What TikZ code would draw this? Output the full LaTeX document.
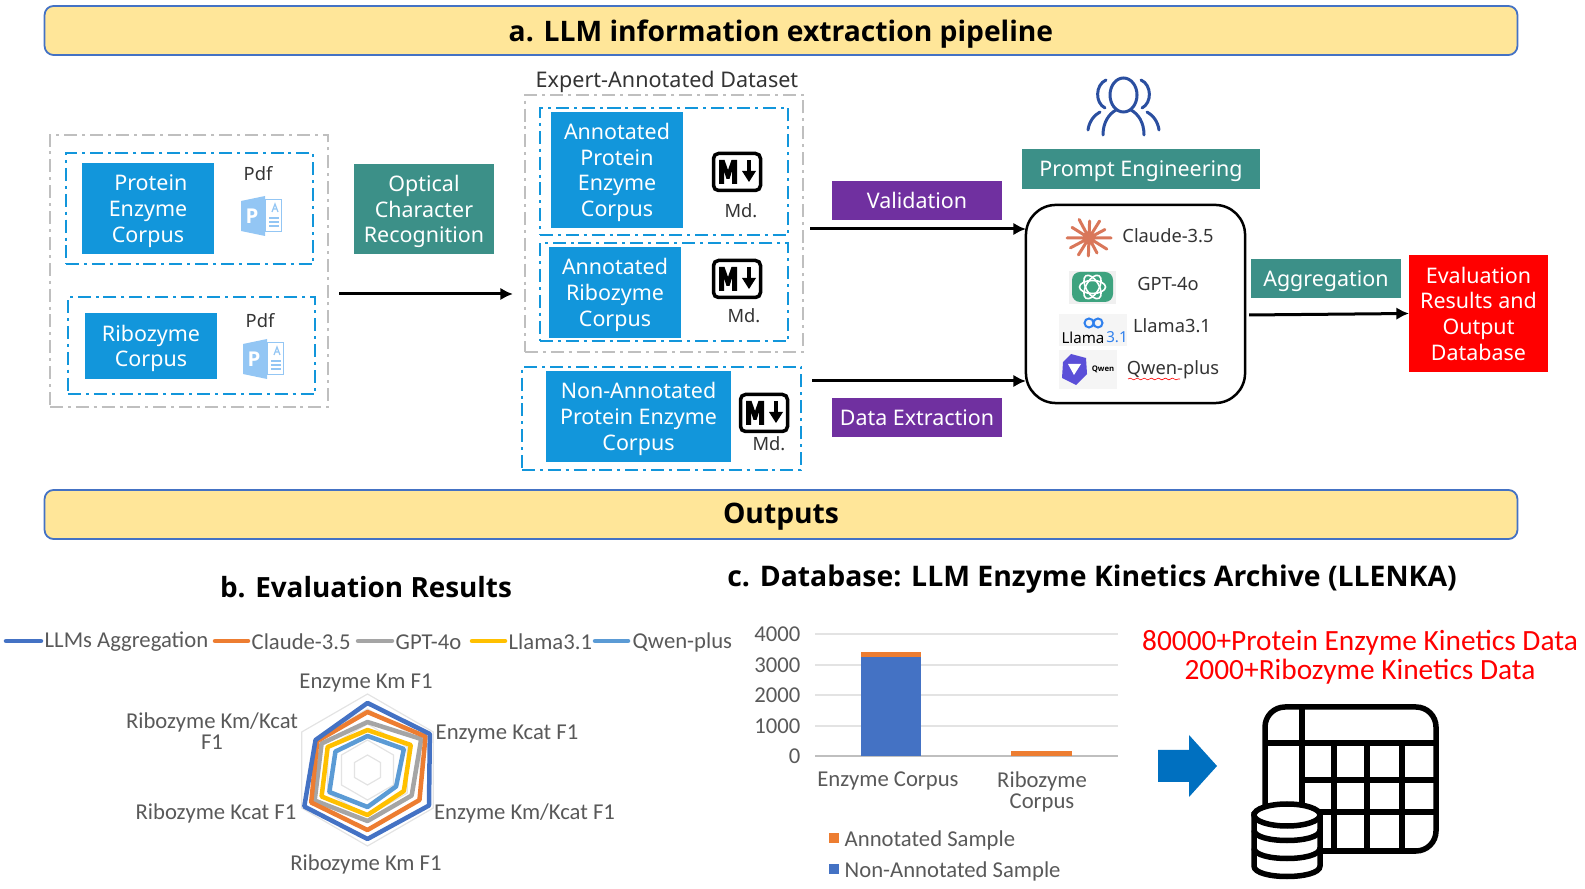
\documentclass[tikz,border=0pt]{standalone}
\usepackage{fontspec}
\setmainfont{Noto Sans}
\newfontfamily\headfont{Open Sans}
\newfontfamily\chartfont{Carlito}
\usetikzlibrary{arrows.meta,decorations.pathmorphing}
\definecolor{corpusblue}{HTML}{1296DB}
\definecolor{tealfill}{HTML}{3C9088}
\definecolor{purplefill}{HTML}{7030A0}
\definecolor{bannerfill}{HTML}{FFE699}
\definecolor{bannerline}{HTML}{4472C4}
\definecolor{framegray}{HTML}{BFBFBF}
\definecolor{labelgray}{HTML}{595959}
\definecolor{iconblue}{HTML}{93C6F4}
\definecolor{peopleblue}{HTML}{2B4FA0}
\definecolor{sorange}{HTML}{ED7D31}
\definecolor{sgray}{HTML}{A5A5A5}
\definecolor{syellow}{HTML}{FFC000}
\definecolor{slight}{HTML}{5B9BD5}
\definecolor{gridgray}{HTML}{E3E3E3}
\definecolor{claudemark}{HTML}{D9775A}
\definecolor{gptmark}{HTML}{3EA37F}
\definecolor{llamablue}{HTML}{2F80ED}
\definecolor{qwenmark}{HTML}{5B4FD8}
\definecolor{bigarrow}{HTML}{0070C0}
\tikzset{
  banner/.style={draw=bannerline, fill=bannerfill, line width=0.018cm, rounded corners=0.09cm,
    minimum width=14.72cm, minimum height=0.49cm, inner sep=0, outer sep=0,
    font=\headfont\fontsize{8.03}{10}\selectfont\bfseries},
  graygroup/.style={draw=framegray, line width=0.02cm, inner sep=0, outer sep=0,
    dash pattern=on 3.7pt off 1.4pt on 0.85pt off 1.4pt},
  dashgroup/.style={graygroup, draw=corpusblue},
  colorbox/.style={inner sep=0, outer sep=0, text=white, align=center,
    font=\fontsize{6.1}{7.3}\selectfont},
  corpus/.style={colorbox, fill=corpusblue, text depth=-0.2pt},
  stepteal/.style={colorbox, fill=tealfill},
  steppurple/.style={colorbox, fill=purplefill},
  flowline/.style={line width=0.03cm, -{Latex[length=3.6pt,width=3.6pt]}},
  plainlabel/.style={inner sep=0, text=black!80, font=\fontsize{5.2}{6.5}\selectfont},
  heading/.style={inner sep=0, font=\headfont\fontsize{7.92}{10}\selectfont\bfseries},
  chartlabel/.style={inner sep=0, text=labelgray, align=center,
    font=\chartfont\fontsize{6.45}{6}\selectfont},
  radarline/.style={line width=0.045cm, line join=round},
  legendline/.style={line width=0.045cm, line cap=round},
  tableline/.style={line width=0.055cm},
  pdficon/.pic={
    \fill [iconblue] (0,5) -- (24,0) -- (24,40) -- (0,35) -- cycle;%
    \draw [iconblue, line width=0.01cm, fill=white] (24,4) rectangle (40,36);%
    \draw [iconblue, line width=0.012cm] (28,22) -- (38,22) (28,26) -- (38,26) (28,30) -- (38,30);%
    \draw [iconblue, line width=0.012cm] (31,16) -- (34,8) -- (37,16) (32,13) -- (36,13);%
    \node (letter) [inner sep=0, text=white, font=\headfont\fontsize{5.8}{6}\selectfont\bfseries] at (11,20) {P};%
  },
  mdicon/.pic={
    \draw [line width=0.035cm, rounded corners=0.05cm, fill=white] (1.5,1.5) rectangle (48.5,38.5);%
    \fill (7,8) -- (12.5,8) -- (16,18) -- (19.5,8) -- (25,8) -- (25,32) -- (20,32) -- (20,19) -- (17.5,27) -- (14.5,27) -- (12,19) -- (12,32) -- (7,32) -- cycle;%
    \fill (35,8) rectangle (39,20);%
    \fill (30,19) -- (44,19) -- (37,30) -- cycle;%
  },
}
\begin{document}
\begin{tikzpicture}[x=0.01cm,y=-0.01cm]
  \useasboundingbox (0,0) rectangle (1585,889);

  % Banners
  \node (bannera) [banner] at (781,30.5) {\rule{0pt}{8.3pt}a. LLM information extraction pipeline};%
  \node (banneroutputs) [banner] at (781,514.5) {\rule{0pt}{7.2pt}Outputs};%

  % Source corpora, left group
  \node (sourcegroup) [graygroup, minimum width=2.78cm, minimum height=2.72cm] at (189,271) {};%
  \node (proteinframe) [dashgroup, minimum width=2.47cm, minimum height=1.11cm] at (189.5,208.5) {};%
  \node (ribozymeframe) [dashgroup, minimum width=2.47cm, minimum height=0.97cm] at (191.5,345.5) {};%
  \node (proteincorpus) [corpus, minimum width=1.32cm, minimum height=0.91cm] at (148,208.5) {\hspace*{1.6pt}Protein\\Enzyme\\Corpus};%
  \node (ribozymecorpus) [corpus, minimum width=1.32cm, minimum height=0.66cm] at (151,346) {Ribozyme\\Corpus};%
  \node (pdfa) [plainlabel] at (258,174) {Pdf};%
  \node (pdfb) [plainlabel] at (260,321) {Pdf};%
  \pic at (241,196) {pdficon};%
  \pic at (243,339) {pdficon};%

  % Optical character recognition step
  \node (ocr) [stepteal, text depth=-0.2pt, minimum width=1.40cm, minimum height=0.90cm] at (424,209) {Optical\\Character\\Recognition};%

  % Expert annotated group
  \node (expertlabel) [plainlabel, font=\fontsize{6.13}{7}\selectfont] at (667,82) {Expert-Annotated Dataset};%
  \node (expertgroup) [graygroup, minimum width=2.78cm, minimum height=2.57cm] at (664,223.5) {};%
  \node (annproteinframe) [dashgroup, minimum width=2.48cm, minimum height=1.27cm] at (664,171.5) {};%
  \node (annribozymeframe) [dashgroup, minimum width=2.48cm, minimum height=0.98cm] at (664,292) {};%
  \node (nonannframe) [dashgroup, minimum width=2.79cm, minimum height=1.03cm] at (661.5,418.5) {};%
  \node (annprotein) [corpus, minimum width=1.32cm, minimum height=1.16cm] at (617,170) {Annotated\\Protein\\Enzyme\\Corpus};%
  \node (annribozyme) [corpus, minimum width=1.32cm, minimum height=0.91cm] at (615,292.5) {Annotated\\Ribozyme\\Corpus};%
  \node (nonann) [corpus, minimum width=1.85cm, minimum height=0.91cm] at (638.5,416.5) {Non-Annotated\\Protein Enzyme\\Corpus};%
  \pic at (712,152) {mdicon};%
  \pic at (712,259) {mdicon};%
  \pic at (739,393) {mdicon};%
  \node (mda) [plainlabel] at (741,211) {Md.};%
  \node (mdb) [plainlabel] at (744,316) {Md.};%
  \node (mdc) [plainlabel] at (769,444) {Md.};%

  % Validation and extraction labels
  \node (validation) [steppurple, minimum width=1.70cm, minimum height=0.39cm] at (917,200.5) {Validation};%
  \node (extraction) [steppurple, minimum width=1.70cm, minimum height=0.39cm] at (917,417.5) {Data Extraction};%

  % People icon
  \draw [peopleblue, line width=0.03cm, line cap=round] (1123.5,95) ellipse (13.5 and 17);%
  \draw [peopleblue, line width=0.03cm, line cap=round]
    (1103,135) .. controls (1103,122) and (1109,114) .. (1116,110)
    (1144,135) .. controls (1144,122) and (1138,114) .. (1131,110)
    (1106,80) .. controls (1095,85) and (1095,103) .. (1105,108)
    (1141,80) .. controls (1152,85) and (1152,103) .. (1142,108)
    (1088,130) .. controls (1089,122) and (1094,115) .. (1100,112)
    (1159,130) .. controls (1158,122) and (1153,115) .. (1147,112);%

  % Prompt engineering and model box
  \node (prompt) [stepteal, text height=5.9pt, minimum width=2.38cm, minimum height=0.40cm] at (1141,169) {Prompt Engineering};%
  \node (llmbox) [draw, line width=0.025cm, rounded corners=0.3cm, inner sep=0, outer sep=0,
    minimum width=2.19cm, minimum height=1.98cm] at (1135.5,304) {};%

  % Claude mark
  \draw [claudemark, line width=0.03cm, line cap=round, shift={(1089,238)}]
    (0:22) -- (180:22) (32:21) -- (212:20) (62:17) -- (242:21) (92:18) -- (272:17)
    (122:20) -- (302:20) (152:21) -- (332:18);%
  \node (claude) [plainlabel] at (1168,236) {Claude-3.5};%

  % GPT mark
  \fill [black!6] (1069,271) rectangle (1116,304);%
  \fill [gptmark, rounded corners=0.08cm] (1072,272) rectangle (1113,302);%
  \draw [white, line width=0.016cm] (1092.5,287) ellipse (13 and 6.5);%
  \draw [white, line width=0.016cm, rotate around={60:(1092.5,287)}] (1092.5,287) ellipse (13 and 6.5);%
  \draw [white, line width=0.016cm, rotate around={120:(1092.5,287)}] (1092.5,287) ellipse (13 and 6.5);%
  \node (gpt) [plainlabel] at (1168,284) {GPT-4o};%

  % Llama mark
  \fill [black!4] (1059,314) rectangle (1127,346);%
  \draw [llamablue, line width=0.02cm] (1089,323) ellipse (4.5 and 4.5) (1098,323) ellipse (4.5 and 4.5);%
  \node (llamamark) [inner sep=0, text=black, font=\fontsize{4.3}{5}\selectfont] at (1083,337.5) {Llama};%
  \node (llamaver) [inner sep=0, text=llamablue, font=\fontsize{4.3}{5}\selectfont] at (1117,337.5) {3.1};%
  \node (llama) [plainlabel] at (1172,325.5) {Llama3.1};%

  % Qwen mark
  \fill [black!4] (1059,350) rectangle (1117,389);%
  \fill [qwenmark] (1071,354) -- (1086,358) -- (1087,374) -- (1076,385) -- (1062,378) -- (1063,362) -- cycle;%
  \fill [white] (1068,364) -- (1081,364) -- (1074,375) -- cycle;%
  \node (qwenmark) [inner sep=0, font=\headfont\fontsize{2.2}{3}\selectfont\bfseries] at (1103,369) {Qwen};%
  \node (qwen) [plainlabel] at (1173,370) {Qwen-plus};%
  \draw [red, line width=0.006cm, decorate, decoration={snake,amplitude=0.25pt,segment length=2pt}] (1128,379) -- (1180,379);%

  % Aggregation and evaluation output
  \node (aggregation) [stepteal, text height=5.9pt, minimum width=1.50cm, minimum height=0.39cm] at (1326,278.5) {Aggregation};%
  \node (evalbox) [colorbox, fill=red, minimum width=1.39cm, minimum height=1.17cm] at (1478.5,313.5) {Evaluation\\Results and\\Output\\Database};%

  % Arrows
  \coordinate (ocrstart) at (339,294);%
  \coordinate (valstart) at (810,229);%
  \coordinate (extstart) at (812,381);%
  \coordinate (outstart) at (1249,315);%
  \draw [flowline, shorten >=0.12cm] (ocrstart) -- (ocrstart -| expertgroup.west);%
  \draw [flowline] (valstart) -- (valstart -| llmbox.west);%
  \draw [flowline] (extstart) -- (extstart -| llmbox.west);%
  \draw [flowline] (outstart) -- (evalbox.west);%

  % Section headings
  \node (headingb) [heading] at (366,587) {b. Evaluation Results};%
  \node (headingc) [heading, font=\headfont\fontsize{8.07}{10}\selectfont\bfseries] at (1092,579) {c. Database: LLM Enzyme Kinetics Archive (LLENKA)};%

  % Radar legend
  \draw [legendline, bannerline] (6,641) -- (41,641);%
  \draw [legendline, sorange] (215,641) -- (248,641);%
  \draw [legendline, sgray] (358,641) -- (392,641);%
  \draw [legendline, syellow] (472,641) -- (505,641);%
  \draw [legendline, slight] (595,641) -- (628,641);%
  \node (legendagg) [chartlabel, anchor=west] at (44,642) {LLMs Aggregation};%
  \node (legendclaude) [chartlabel, anchor=west] at (251,642) {Claude-3.5};%
  \node (legendgpt) [chartlabel, anchor=west] at (395,642) {GPT-4o};%
  \node (legendllama) [chartlabel, anchor=west] at (508,642) {Llama3.1};%
  \node (legendqwen) [chartlabel, anchor=west] at (632,642) {Qwen-plus};%

  % Radar chart
  \begin{scope}[shift={(367.5,770)}]
    \foreach \r in {15,30,46,61,76} {
      \draw [gridgray, line width=0.012cm] (-90:\r) -- (-30:\r) -- (30:\r) -- (90:\r) -- (150:\r) -- (210:\r) -- cycle;%
    }
    \draw [radarline, slight] (-90:34) -- (-30:42) -- (30:33) -- (90:37) -- (150:44) -- (210:37) -- cycle;%
    \draw [radarline, syellow] (-90:40) -- (-30:50) -- (30:42) -- (90:45) -- (150:53) -- (210:46) -- cycle;%
    \draw [radarline, sgray] (-90:48) -- (-30:62) -- (30:51) -- (90:51) -- (150:61) -- (210:53) -- cycle;%
    \draw [radarline, sorange] (-90:58) -- (-30:67) -- (30:60) -- (90:60) -- (150:65) -- (210:58) -- cycle;%
    \draw [radarline, bannerline] (-90:67) -- (-30:72) -- (30:71) -- (90:69) -- (150:73) -- (210:60) -- cycle;%
  \end{scope}
  \node (axisa) [chartlabel] at (366,683) {Enzyme Km F1};%
  \node (axisb) [chartlabel] at (507,734) {Enzyme Kcat F1};%
  \node (axisc) [chartlabel] at (524.5,813) {Enzyme Km/Kcat F1};%
  \node (axisd) [chartlabel] at (366,864) {Ribozyme Km F1};%
  \node (axise) [chartlabel] at (216,813) {Ribozyme Kcat F1};%
  \node (axisf) [chartlabel, font=\chartfont\fontsize{6.45}{5.9}\selectfont] at (212,731) {Ribozyme Km/Kcat\\F1};%

  % Bar chart grid and axis labels
  \draw [gridgray, line width=0.012cm] (815,634) -- (1118,634) (815,665) -- (1118,665) (815,695) -- (1118,695) (815,726) -- (1118,726);%
  \draw [black!25, line width=0.012cm] (815,756) -- (1118,756);%
  \node (ticka) [chartlabel, anchor=east] at (801,634) {4000};%
  \node (tickb) [chartlabel, anchor=east] at (801,665) {3000};%
  \node (tickc) [chartlabel, anchor=east] at (801,695) {2000};%
  \node (tickd) [chartlabel, anchor=east] at (801,726) {1000};%
  \node (ticke) [chartlabel, anchor=east] at (801,756) {0};%

  % Bars
  \fill [bannerline] (861,657) rectangle (921,756);%
  \fill [sorange] (861,652) rectangle (921,657);%
  \fill [sorange] (1011,751) rectangle (1072,756);%
  \node (barlabela) [chartlabel] at (888,781) {Enzyme Corpus};%
  \node (barlabelb) [chartlabel] at (1042,792) {Ribozyme\\Corpus};%

  % Bar chart legend
  \fill [sorange] (829,833) rectangle (839,843);%
  \fill [bannerline] (829,864) rectangle (839,874);%
  \node (legendann) [chartlabel, anchor=west] at (844,840) {Annotated Sample};%
  \node (legendnon) [chartlabel, anchor=west] at (844,871) {Non-Annotated Sample};%

  % Result text
  \node (kineticsa) [inner sep=0, text=red, font=\chartfont\fontsize{8.35}{9}\selectfont] at (1360,643) {80000+Protein Enzyme Kinetics Data};%
  \node (kineticsb) [inner sep=0, text=red, font=\chartfont\fontsize{8.35}{9}\selectfont] at (1360,672) {2000+Ribozyme Kinetics Data};%

  % Big arrow
  \fill [bigarrow] (1158,750) -- (1189,750) -- (1189,735) -- (1217,766) -- (1189,797) -- (1189,782) -- (1158,782) -- cycle;%

  % Table icon
  \draw [tableline, rounded corners=0.2cm] (1265,707) rectangle (1436,851);%
  \draw [tableline] (1265,743) -- (1436,743) (1302,780) -- (1436,780) (1302,812) -- (1436,812);%
  \draw [tableline] (1302,707) -- (1302,851) (1334,743) -- (1334,851) (1367,743) -- (1367,851) (1402,743) -- (1402,851);%

  % Cylinder on the table icon
  \draw [tableline, fill=white] (1254,815) -- (1254,866) .. controls (1254,880) and (1320,880) .. (1320,866) -- (1320,815) -- cycle;%
  \draw [tableline, fill=white] (1287,815) ellipse (33 and 11);%
  \draw [tableline] (1254,830) .. controls (1254,844) and (1320,844) .. (1320,830);%
  \draw [tableline] (1254,848) .. controls (1254,862) and (1320,862) .. (1320,848);%
\end{tikzpicture}
\end{document}
